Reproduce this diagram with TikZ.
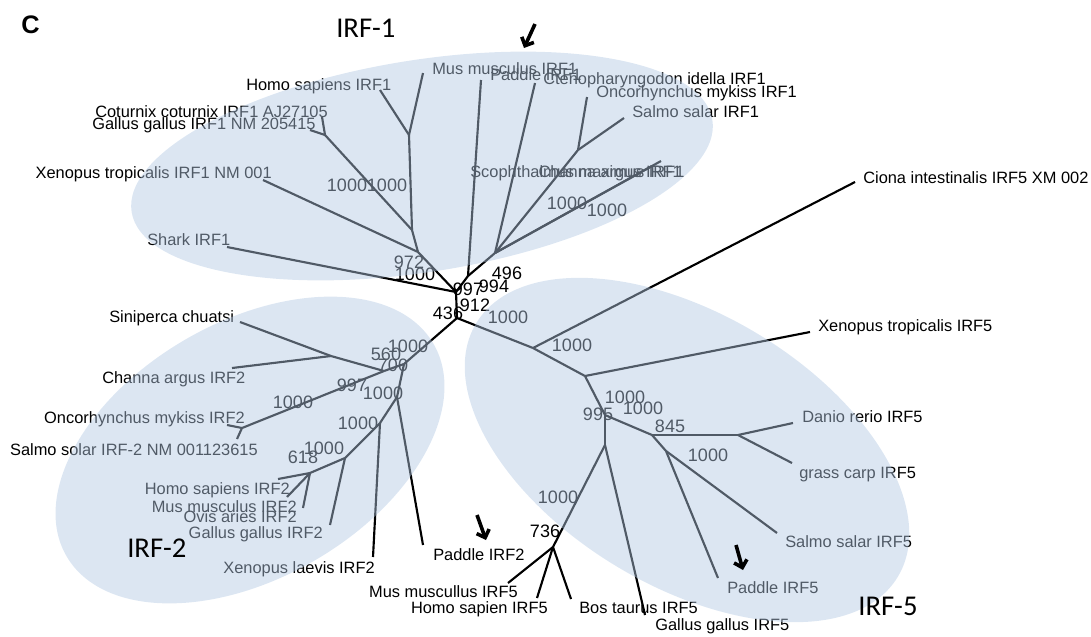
\documentclass[tikz,border=0pt]{standalone}
\usepackage{fontspec}
\setmainfont{Liberation Sans}
\newfontfamily\cladefont{Carlito}
\usetikzlibrary{arrows.meta}

\definecolor{cladeblue}{RGB}{178,200,227}

\begin{document}
\begin{tikzpicture}
  [x=0.75pt,y=-0.75pt,
   every node/.style={inner sep=0pt,font=\fontsize{12.3}{14}\selectfont},
   leaf/.style={anchor=base west},
   leafr/.style={anchor=base east},
   boot/.style={font=\fontsize{13.5}{15}\selectfont},
   branch/.style={line width=1.6pt},
   clade/.style={fill=cladeblue,fill opacity=0.45,draw=none},
   cladename/.style={anchor=base west,font=\cladefont\fontsize{21.5}{24}\selectfont},
   hint/.style={-{Straight Barb[length=5pt,width=10pt]},line width=2.7pt}]
  \useasboundingbox (0,0) rectangle (1091,636);

  % inner nodes
  \coordinate (r0) at (457,318);
  \coordinate (r1) at (456,292);
  \coordinate (b1) at (418,252);
  \coordinate (a1) at (412,230);
  \coordinate (hm1) at (409,135);
  \coordinate (gc1) at (325,135);
  \coordinate (f1) at (468,276);
  \coordinate (c1) at (495,253);
  \coordinate (d1) at (578,150);
  \coordinate (h2) at (404,364);
  \coordinate (m2) at (384,371);
  \coordinate (j2) at (331,356);
  \coordinate (l2) at (242,428);
  \coordinate (n2) at (397,397);
  \coordinate (p2) at (380,423);
  \coordinate (q2) at (345,458);
  \coordinate (r2) at (310,473);
  \coordinate (s5) at (533,348);
  \coordinate (t5) at (585,376);
  \coordinate (u5) at (605,415);
  \coordinate (w5) at (605,445);
  \coordinate (v5) at (652,435);
  \coordinate (y5) at (738,435);
  \coordinate (z5) at (666,451);
  \coordinate (x5) at (553,547);

  % leaf ends
  \coordinate (homoA) at (380,90);
  \coordinate (musA) at (423,73);
  \coordinate (cotA) at (322,117);
  \coordinate (galA) at (310,130);
  \coordinate (xenA) at (263,180);
  \coordinate (sharkA) at (227,247);
  \coordinate (padA) at (481,80);
  \coordinate (ctenoA) at (535,83);
  \coordinate (oncoA) at (587,97);
  \coordinate (salmoA) at (624,118);
  \coordinate (scophA) at (661,161);
  \coordinate (channaA) at (652,166);
  \coordinate (sinB) at (240,322);
  \coordinate (chanB) at (232,368);
  \coordinate (oncoB) at (227,425);
  \coordinate (salmoB) at (237,439);
  \coordinate (padB) at (423,545);
  \coordinate (xenB) at (373,557);
  \coordinate (galB) at (330,525);
  \coordinate (homoB) at (278,479);
  \coordinate (musB) at (287,497);
  \coordinate (ovisB) at (303,508);
  \coordinate (cionaC) at (855,182);
  \coordinate (xenC) at (810,332);
  \coordinate (danioC) at (793,423);
  \coordinate (carpC) at (792,463);
  \coordinate (salmoC) at (777,533);
  \coordinate (padC) at (718,578);
  \coordinate (galC) at (645,615);
  \coordinate (bosC) at (571,599);
  \coordinate (homoC) at (537,598);
  \coordinate (musC) at (508,583);

  \foreach \from/\to in {r0/r1,r1/sharkA,r1/b1,b1/xenA,b1/a1,a1/hm1,hm1/homoA,hm1/musA,
      a1/gc1,gc1/cotA,gc1/galA,r1/f1,f1/padA,f1/c1,c1/ctenoA,c1/d1,d1/oncoA,d1/salmoA,
      c1/scophA,c1/channaA,
      r0/h2,h2/m2,m2/j2,j2/sinB,j2/chanB,m2/l2,l2/oncoB,l2/salmoB,h2/n2,n2/padB,n2/p2,
      p2/xenB,p2/q2,q2/galB,q2/r2,r2/homoB,r2/musB,r2/ovisB,
      r0/s5,s5/cionaC,s5/t5,t5/xenC,t5/u5,u5/w5,u5/v5,v5/y5,y5/danioC,y5/carpC,v5/z5,
      z5/salmoC,z5/padC,w5/galC,w5/x5,x5/bosC,x5/homoC,x5/musC}
    \draw[branch] (\from) -- (\to);

  % IRF-1 names
  \node[leaf] (tHomoA) at (246,90) {Homo sapiens IRF1};
  \node[leaf] (tMusA) at (432,74) {Mus musculus IRF1};
  \node[leaf] (tPadA) at (490,80) {Paddle IRF1};
  \node[leaf] (tCtenoA) at (543,84) {Ctenopharyngodon idella IRF1};
  \node[leaf] (tOncoA) at (596,97) {Oncorhynchus mykiss IRF1};
  \node[leaf] (tSalmoA) at (632,117) {Salmo salar IRF1};
  \node[leaf] (tScophA) at (470,177) {Scophthalmus maximus IRF1};
  \node[leafr] (tChannaA) at (682,177) {Channa argus IRF1};
  \node[leaf] (tCotA) at (95,117) {Coturnix coturnix IRF1 AJ27105};
  \node[leaf] (tGalA) at (92,129) {Gallus gallus IRF1 NM 205415};
  \node[leafr] (tXenA) at (272,178) {Xenopus tropicalis IRF1 NM 001};
  \node[leaf] (tSharkA) at (147,245) {Shark IRF1};
  % IRF-2 names
  \node[leaf] (tSinB) at (109,322) {Siniperca chuatsi};
  \node[leaf] (tChanB) at (102,383) {Channa argus IRF2};
  \node[leafr] (tOncoB) at (245,423) {Oncorhynchus mykiss IRF2};
  \node[leafr] (tSalmoB) at (258,455) {Salmo solar IRF-2 NM 001123615};
  \node[leafr] (tHomoB) at (290,494) {Homo sapiens IRF2};
  \node[leafr] (tMusB) at (297,512) {Mus musculus IRF2};
  \node[leafr] (tOvisB) at (297,522) {Ovis aries IRF2};
  \node[leafr] (tGalB) at (323,538) {Gallus gallus IRF2};
  \node[leafr] (tXenB) at (375,573) {Xenopus laevis IRF2};
  \node[leaf] (tPadB) at (433,560) {Paddle IRF2};
  % IRF-5 names
  \node[leafr] (tMusC) at (518,597) {Mus muscullus IRF5};
  \node[leafr] (tHomoC) at (548,613) {Homo sapien IRF5};
  \node[leaf] (tBosC) at (579,613) {Bos taurus IRF5};
  \node[leaf] (tGalC) at (655,630) {Gallus gallus IRF5};
  \node[leaf] (tPadC) at (727,593) {Paddle IRF5};
  \node[leaf] (tSalmoC) at (785,547) {Salmo salar IRF5};
  \node[leaf] (tCarpC) at (799,478) {grass carp IRF5};
  \node[leaf] (tDanioC) at (802,422) {Danio rerio IRF5};
  \node[leaf] (tXenC) at (818,331) {Xenopus tropicalis IRF5};
  \node[leaf] (tCionaC) at (863,183) {Ciona intestinalis IRF5 XM 002};

  % bootstrap values
  \foreach [count=\i] \x/\y/\v in {347/185/1000,387/185/1000,409/262/972,415/274/1000,
      468/289/997,494/286/994,507/273/496,475/305/912,448/313/436,508/317/1000,
      567/203/1000,607/210/1000,
      408/346/1000,386/354/560,393/365/700,352/385/997,383/393/1000,293/402/1000,
      358/423/1000,324/448/1000,303/457/618,
      572/345/1000,625/397/1000,598/414/995,643/408/1000,670/426/845,708/455/1000,
      558/497/1000,545/531/736}
    \node[boot] (bs\i) at (\x,\y) {\v};

  % clades
  \fill[clade,rotate around={9:(422,166)}] (422,166) ellipse [x radius=294,y radius=106];
  \fill[clade,rotate around={30:(250,450)}] (250,450) ellipse [x radius=212,y radius=128];
  \fill[clade,rotate around={-31:(687,450)}] (687,450) ellipse [x radius=246,y radius=136];

  \node[cladename] (irf1) at (336,37) {IRF-1};
  \node[cladename] (irf2) at (127,557) {IRF-2};
  \node[cladename] (irf5) at (858,615) {IRF-5};
  \node[anchor=base west,font=\bfseries\fontsize{19}{22}\selectfont] (panel) at (21,33) {C};

  % arrows to paddle
  \coordinate (p1s) at (535,24);
  \coordinate (p1e) at (524,48);
  \coordinate (p2s) at (477,515);
  \coordinate (p2e) at (486,540);
  \coordinate (p3s) at (736,545);
  \coordinate (p3e) at (743,570);
  \foreach \from/\to in {p1s/p1e,p2s/p2e,p3s/p3e}
    \draw[hint] (\from) -- (\to);

\end{tikzpicture}
\end{document}
